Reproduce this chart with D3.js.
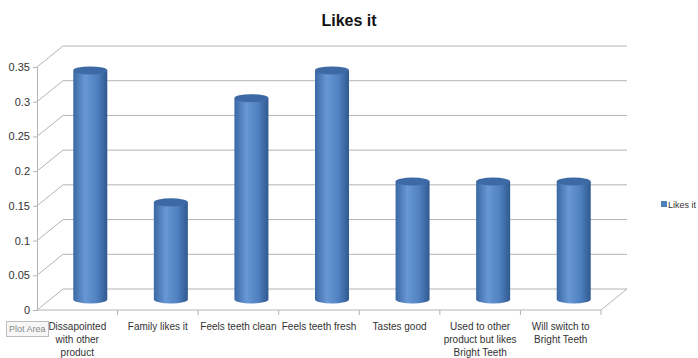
<!DOCTYPE html>
<html>
<head>
<meta charset="utf-8">
<script src="https://cdn.jsdelivr.net/npm/d3@7"></script>
<style>
  body { margin: 0; background: #fff; }
  text { font-family: "Liberation Sans", Arial, sans-serif; }
</style>
</head>
<body>
<div id="chart"></div>
<script>
// 分类（换行用 \n）
const categories = [
  'Dissapointed\nwith other\nproduct',
  'Family likes it',
  'Feels teeth clean',
  'Feels teeth fresh',
  'Tastes good',
  'Used to other\nproduct but likes\nBright Teeth',
  'Will switch to\nBright Teeth'
]
// 系列值
const likesIt = [0.33, 0.14, 0.29, 0.33, 0.17, 0.17, 0.17]
const yTicks = [0, 0.05, 0.1, 0.15, 0.2, 0.25, 0.3, 0.35]
const yTickLabels = ['0', '0.05', '0.1', '0.15', '0.2', '0.25', '0.3', '0.35']
const seriesName = 'Likes it'
const title = 'Likes it'

const width = 698
const height = 358
// 3D 深度偏移
const depthX = 26
const depthY = -21

const svg = d3.select('#chart').append('svg')
  .attr('width', width)
  .attr('height', height)

const defs = svg.append('defs')
const grad = defs.append('linearGradient').attr('id', 'cyl')
  .attr('x1', '0%').attr('x2', '100%').attr('y1', '0%').attr('y2', '0%')
grad.append('stop').attr('offset', '0%').attr('stop-color', '#3a68a5')
grad.append('stop').attr('offset', '35%').attr('stop-color', '#6797d4')
grad.append('stop').attr('offset', '70%').attr('stop-color', '#4f80c0')
grad.append('stop').attr('offset', '100%').attr('stop-color', '#30598f')

const x = d3.scaleBand().domain(categories).range([37, 601]).paddingInner(0).paddingOuter(0)
const y = d3.scaleLinear().domain([0, 0.35]).range([310, 67])

const gridColor = '#b4b4b4'

// 网格线（侧墙斜线 + 背墙横线）
const grid = svg.append('g')
yTicks.forEach(t => {
  const yy = y(t)
  grid.append('path')
    .attr('d', `M${x.range()[0]},${yy} L${x.range()[0] + depthX},${yy + depthY} L${x.range()[1] + depthX},${yy + depthY}`)
    .attr('fill', 'none')
    .attr('stroke', gridColor)
    .attr('stroke-width', 1)
})
// 地板
grid.append('path')
  .attr('d', `M${x.range()[0]},${y(0)} L${x.range()[1]},${y(0)} L${x.range()[1] + depthX},${y(0) + depthY}`)
  .attr('fill', 'none')
  .attr('stroke', gridColor)

// y 轴
const yAxis = svg.append('g')
  .attr('transform', `translate(${x.range()[0]},0)`)
  .call(d3.axisLeft(y).tickValues(yTicks).tickSize(4).tickPadding(3)
    .tickFormat((d, i) => yTickLabels[i]))
yAxis.select('.domain').attr('stroke', gridColor)
yAxis.selectAll('.tick line').attr('stroke', gridColor)
yAxis.selectAll('.tick text').attr('font-size', 11).attr('fill', '#333')

// x 轴
const xAxis = svg.append('g')
  .attr('transform', `translate(0,${y(0)})`)
xAxis.selectAll('line.sep')
  .data(categories.slice(1).concat(['end']))
  .enter().append('line')
  .attr('x1', (d, i) => x.range()[0] + x.step() * (i + 1))
  .attr('x2', (d, i) => x.range()[0] + x.step() * (i + 1))
  .attr('y1', 0).attr('y2', 5)
  .attr('stroke', gridColor)

const labels = xAxis.selectAll('text.cat')
  .data(categories)
  .enter().append('text')
  .attr('class', 'cat')
  .attr('text-anchor', 'middle')
  .attr('font-size', 10)
  .attr('fill', '#333')
labels.each(function (d) {
  const t = d3.select(this)
  d.split('\n').forEach((line, i) => {
    t.append('tspan')
      .attr('x', x(d) + x.bandwidth() / 2)
      .attr('y', 20 + i * 13)
      .text(line)
  })
})

// 圆柱
const rx = 17
const ry = 4
const bars = svg.append('g')
categories.forEach((c, i) => {
  const cx = x(c) + x.bandwidth() / 2 + depthX / 2
  const top = y(likesIt[i]) + depthY / 2
  const bot = y(0) + depthY / 2
  const g = bars.append('g')
  g.append('path')
    .attr('d', `M${cx - rx},${top} L${cx - rx},${bot} A${rx},${ry} 0 0 0 ${cx + rx},${bot} L${cx + rx},${top} Z`)
    .attr('fill', 'url(#cyl)')
  g.append('ellipse')
    .attr('cx', cx).attr('cy', top)
    .attr('rx', rx).attr('ry', ry)
    .attr('fill', '#3d6aa5')
})

// 标题
svg.append('text')
  .attr('x', 349).attr('y', 26)
  .attr('text-anchor', 'middle')
  .attr('font-size', 16)
  .attr('font-weight', 'bold')
  .attr('fill', '#111')
  .text(title)

// 图例
svg.append('rect')
  .attr('x', 661).attr('y', 201)
  .attr('width', 6).attr('height', 6)
  .attr('fill', '#4f81bd')
svg.append('text')
  .attr('x', 668).attr('y', 208)
  .attr('font-size', 9)
  .attr('fill', '#333')
  .text(seriesName)

// Plot Area 提示框
const tip = svg.append('g')
tip.append('rect')
  .attr('x', 6.5).attr('y', 321.5)
  .attr('width', 42).attr('height', 15)
  .attr('fill', '#f7f7f7')
  .attr('stroke', '#bdbdbd')
tip.append('text')
  .attr('x', 9).attr('y', 332)
  .attr('font-size', 9)
  .attr('fill', '#8a8a8a')
  .text('Plot Area')
</script>
</body>
</html>
